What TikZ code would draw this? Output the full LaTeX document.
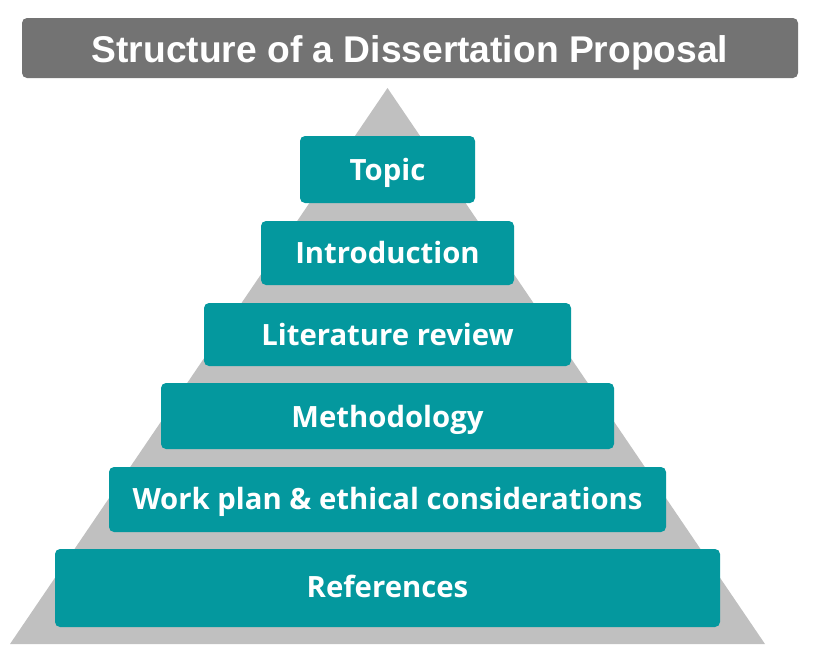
\documentclass[tikz,border=0pt]{standalone}
\usepackage{fontspec}
\setmainfont{Open Sans}
\newfontfamily\titlefont{Liberation Sans}
\definecolor{teal1}{RGB}{4,152,158}
\definecolor{titlegray}{RGB}{115,115,115}
\definecolor{pyrgray}{RGB}{192,192,192}
\begin{document}
\begin{tikzpicture}[x=1pt,y=-1pt,
  layer/.style={fill=teal1, rounded corners=5pt, draw=none},
  layertext/.style={text=white, font=\fontsize{29.3}{34}\selectfont\bfseries, inner sep=0pt, anchor=base}]
\useasboundingbox (0,0) rectangle (819,662);
% title
\fill[titlegray, rounded corners=5pt] (22,18) rectangle (798,78);
\node[text=white, font=\titlefont\fontsize{37.2}{42}\selectfont\bfseries, inner sep=0pt, anchor=base] (title) at (410,62.3) {Structure of a Dissertation Proposal};
% pyramid
\fill[pyrgray] (387.5,88) -- (10,644) -- (765,644) -- cycle;
% layers
\fill[layer] (300,136) rectangle (475,203);
\node[layertext] (topic) at (387.5,180) {Topic};
\fill[layer] (261,221) rectangle (514,285);
\node[layertext] (intro) at (387.5,263.3) {Introduction};
\fill[layer] (204,303) rectangle (571,366);
\node[layertext] (lit) at (387.5,345) {Literature review};
\fill[layer] (161,383) rectangle (614,449);
\node[layertext] (meth) at (387.5,427.7) {Methodology};
\fill[layer] (109,467) rectangle (666,532);
\node[layertext] (work) at (387.5,509) {Work plan \& ethical considerations};
\fill[layer] (55,549) rectangle (720,627);
\node[layertext] (refs) at (387.5,597.3) {References};
\end{tikzpicture}
\end{document}
